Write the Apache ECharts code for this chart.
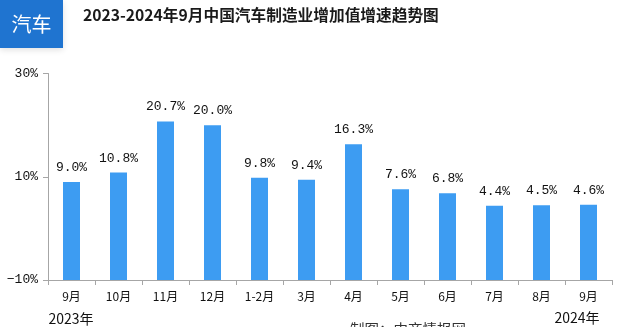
<!DOCTYPE html>
<html><head><meta charset="utf-8">
<script src="https://cdn.jsdelivr.net/npm/echarts@6/dist/echarts.min.js"></script>
<style>html,body{margin:0;padding:0;background:#fff}#c{width:628px;height:327px}</style>
</head><body><div id="c"></div>
<script>
const categories = ['9月','10月','11月','12月','1-2月','3月','4月','5月','6月','7月','8月','9月'];
const growth = [9.0, 10.8, 20.7, 20.0, 9.8, 9.4, 16.3, 7.6, 6.8, 4.4, 4.5, 4.6];
const yTicks = [-10, 10, 30];
const titleText = '2023-2024年9月中国汽车制造业增加值增速趋势图';
const tagText = '汽车';
const yearStart = '2023年';
const yearEnd = '2024年';
const sourceText = '制图：中商情报网';

const chart = echarts.init(document.getElementById('c'), null, {renderer: 'canvas'});
const mono = '"Liberation Mono","DejaVu Sans Mono",monospace';
chart.setOption({
  animation: false,
  backgroundColor: '#fff',
  grid: {left: 48, right: 16, top: 73.5, bottom: 47},
  xAxis: {
    type: 'category', data: categories,
    axisLine: {onZero: false, lineStyle: {color: '#a6a6a6', width: 1}},
    axisTick: {show: true, alignWithLabel: false, length: 5, lineStyle: {color: '#a6a6a6'}},
    axisLabel: {color: '#111', fontSize: 12, margin: 10, fontFamily: '"Noto Sans CJK SC",sans-serif', interval: 0}
  },
  yAxis: {
    type: 'value', min: -10, max: 30, startValue: -10,
    splitLine: {show: false},
    axisLine: {show: true, lineStyle: {color: '#a6a6a6'}},
    axisTick: {show: true, length: 5, customValues: yTicks, lineStyle: {color: '#a6a6a6'}},
    axisLabel: {customValues: yTicks, color: '#111', fontSize: 13, fontFamily: mono, margin: 10,
      formatter: v => (v < 0 ? '−' + Math.abs(v) : v) + '%'}
  },
  series: [{
    type: 'bar', data: growth, barWidth: 17,
    itemStyle: {color: '#3d9cf2'},
    label: {show: true, position: 'top', distance: 8, color: '#111', fontSize: 13, fontFamily: mono,
      formatter: p => p.value.toFixed(1) + '%'}
  }],
  graphic: [
    {type: 'rect', shape: {x: 0, y: 0, width: 63, height: 48}, style: {fill: '#1f74d0', shadowBlur: 6, shadowColor: 'rgba(0,0,0,0.12)', shadowOffsetY: 2}},
    {type: 'text', x: 31.5, y: 24, style: {text: tagText, fill: '#fff', fontSize: 20, fontFamily: '"Noto Sans CJK SC",sans-serif', align: 'center', verticalAlign: 'middle'}},
    {type: 'text', x: 83, y: 15, style: {text: titleText, fill: '#1a1a1a', fontSize: 15.7, fontWeight: 'bold', fontFamily: '"Noto Sans CJK SC",sans-serif', align: 'left', verticalAlign: 'middle'}},
    {type: 'text', x: 71, y: 319, style: {text: yearStart, fill: '#111', fontSize: 14, fontFamily: '"Noto Sans CJK SC",sans-serif', align: 'center', verticalAlign: 'middle'}},
    {type: 'text', x: 577, y: 318, style: {text: yearEnd, fill: '#111', fontSize: 14, fontFamily: '"Noto Sans CJK SC",sans-serif', align: 'center', verticalAlign: 'middle'}},
    {type: 'text', x: 350, y: 322, style: {text: sourceText, fill: '#333', fontSize: 14.5, fontFamily: '"Noto Sans CJK SC",sans-serif', align: 'left', verticalAlign: 'top'}}
  ]
});
</script></body></html>
